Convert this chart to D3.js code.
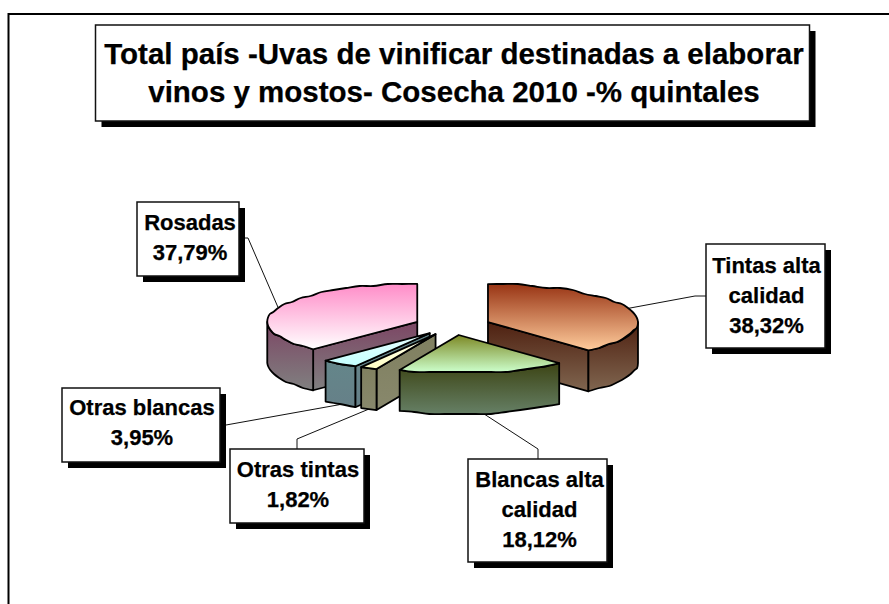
<!DOCTYPE html>
<html><head><meta charset="utf-8">
<script src="https://cdn.jsdelivr.net/npm/d3@7"></script>
<style>html,body{margin:0;background:#fff}svg{display:block}text{font-family:"Liberation Sans",Arial,sans-serif;font-weight:700;fill:#000;stroke:#000;stroke-width:.25px}</style>
</head><body><svg id="c" width="889" height="604"></svg>
<script>
const titleLines = ["Total país -Uvas de vinificar destinadas a elaborar","vinos y mostos- Cosecha 2010 -% quintales"];
const categories = ["Tintas alta calidad","Blancas alta calidad","Otras tintas","Otras blancas","Rosadas"];
const values = [38.32,18.12,1.82,3.95,37.79];
const labelLines = [["Tintas alta","calidad"],["Blancas alta","calidad"],["Otras tintas"],["Otras blancas"],["Rosadas"]];
const valueLabels = ["38,32%","18,12%","1,82%","3,95%","37,79%"];
const topColors = [["#983414","#ffcc9c"],["#7c8824","#ccffcc"],["#fffff0","#ffffc4"],["#e8ffff","#c4ffff"],["#ff8cc8","#ffffff"]];
const sideColors = [["#4e2010","#806650"],["#3c4414","#668066"],["#808060","#88886c"],["#64868a","#668088"],["#7c4664","#808080"]];
const drawOrder = [4,0,3,2,1];

// layout
const cx=452.5, cy=325.5, rx=150, ry=38, depth=41, explode=38;
const boxes = [
  {x:706,y:244,w:119,h:104,base:273,dx:1,leader:[[706,296],[695,296]]},
  {x:468,y:459,w:139,h:103,base:487,dx:2,leader:[[538,459],[538,449]]},
  {x:230,y:449,w:134,h:74,base:477,dx:1,leader:[[297,449],[297,439]]},
  {x:62,y:388,w:158,h:74,base:415,dx:1,leader:[[226,425]]},
  {x:137,y:202,w:102,h:74,base:230,dx:2,leader:[[245,238],[248,238]]}
];

const svg = d3.select("#c");
const defs = svg.append("defs");
const X = d3.scaleLinear().domain([-1,1]).range([-rx,rx]);
const Y = d3.scaleLinear().domain([-1,1]).range([-ry,ry]);
const arcs = d3.pie().sort(null)(values);
const TAU = Math.PI*2;

function grad(id,c){
  const g=defs.append("linearGradient").attr("id",id).attr("x1",0).attr("y1",0).attr("x2",0).attr("y2",1);
  g.append("stop").attr("offset",0).attr("stop-color",c[0]);
  g.append("stop").attr("offset",1).attr("stop-color",c[1]);
}
topColors.forEach((c,i)=>grad("t"+i,c));
sideColors.forEach((c,i)=>grad("s"+i,c));

// outer rim, sampled coarsely and snapped to a grid: the reference has a scalloped edge
const q=(v,s)=>Math.round(v/s)*s;
function rim(a0,a1,ox,oy){
  const n=Math.max(1,Math.round(Math.abs(a1-a0)*rx/15)), pts=[];
  for(let i=0;i<=n;i++){
    const a=a0+(a1-a0)*i/n, px=ox+X(Math.sin(a)), py=oy+Y(-Math.cos(a));
    pts.push(i==0||i==n?[px,py]:[px,q(py,2)]);
  }
  return pts;
}
const smooth=d3.line().curve(d3.curveCatmullRom.alpha(0.5));
const seg=pts=>smooth(pts).slice(1);

// frame: top and left rules only
svg.append("path").attr("d","M889 14H8.5V604").attr("fill","none").attr("stroke","#000").attr("stroke-width",2);

function boxShape(g,x,y,w,h,sx,sy){
  g.append("rect").attr("x",x+sx).attr("y",y+sy).attr("width",w).attr("height",h).attr("fill","#000");
  g.append("rect").attr("x",x).attr("y",y).attr("width",w).attr("height",h).attr("fill","#fff").attr("stroke","#111").attr("stroke-width",1.5);
}

// leaders (under the pie)
const leaders=svg.append("g").attr("fill","none").attr("stroke","#111").attr("stroke-width",1);
arcs.forEach((d,i)=>{
  const mid=(d.startAngle+d.endAngle)/2;
  const ox=cx+X(Math.sin(mid))*explode/rx, oy=cy+Y(-Math.cos(mid))*explode/rx;
  const ax=ox+X(Math.sin(mid)), ay=oy+Y(-Math.cos(mid))+(Math.cos(mid)<0?depth:0);
  leaders.append("path").attr("d",d3.line()([...boxes[i].leader,[ax,ay]]));
});

const pie=svg.append("g").attr("stroke","#000").attr("stroke-width",1.8).attr("stroke-linejoin","round");
drawOrder.forEach(i=>{
  const d=arcs[i], a0=d.startAngle, a1=d.endAngle, mid=(a0+a1)/2;
  const ox=cx+X(Math.sin(mid))*explode/rx, oy=cy+Y(-Math.cos(mid))*explode/rx;
  const g=pie.append("g");
  const P=a=>[ox+X(Math.sin(a)),oy+Y(-Math.cos(a))];
  // radial walls facing the viewer
  if(Math.sin(a0)<-1e-6){
    const p=P(a0);
    g.append("path").attr("fill",`url(#s${i})`).attr("d",`M${ox} ${oy}L${p[0]} ${p[1]}V${p[1]+depth}L${ox} ${oy+depth}Z`);
  }
  if(Math.sin(a1)>1e-6){
    const p=P(a1);
    g.append("path").attr("fill",`url(#s${i})`).attr("d",`M${ox} ${oy}L${p[0]} ${p[1]}V${p[1]+depth}L${ox} ${oy+depth}Z`);
  }
  // outer wall
  const w0=Math.max(a0,TAU/4), w1=Math.min(a1,TAU*3/4);
  if(w1>w0){
    const top=rim(w0,w1,ox,oy), bot=rim(w1,w0,ox,oy+depth);
    g.append("path").attr("fill",`url(#s${i})`).attr("d","M"+seg(top)+"L"+seg(bot)+"Z");
  }
  // top face
  const r=rim(a0,a1,ox,oy);
  g.append("path").attr("fill",`url(#t${i})`).attr("d",`M${ox} ${oy}L`+seg(r)+"Z");
});

// title
const tb=svg.append("g");
boxShape(tb,95.5,25,714,96,6,6);
titleLines.forEach((t,i)=>tb.append("text").attr("x",454).attr("y",[64,102][i]).attr("text-anchor","middle").attr("font-size",29.5).text(t));

// labels
boxes.forEach((b,i)=>{
  const g=svg.append("g");
  boxShape(g,b.x,b.y,b.w,b.h,6,6);
  const lines=[...labelLines[i],valueLabels[i]];
  lines.forEach((t,k)=>g.append("text").attr("x",b.x+b.w/2+b.dx).attr("y",b.base+k*30).attr("text-anchor","middle").attr("font-size",22).text(t));
});
</script></body></html>
